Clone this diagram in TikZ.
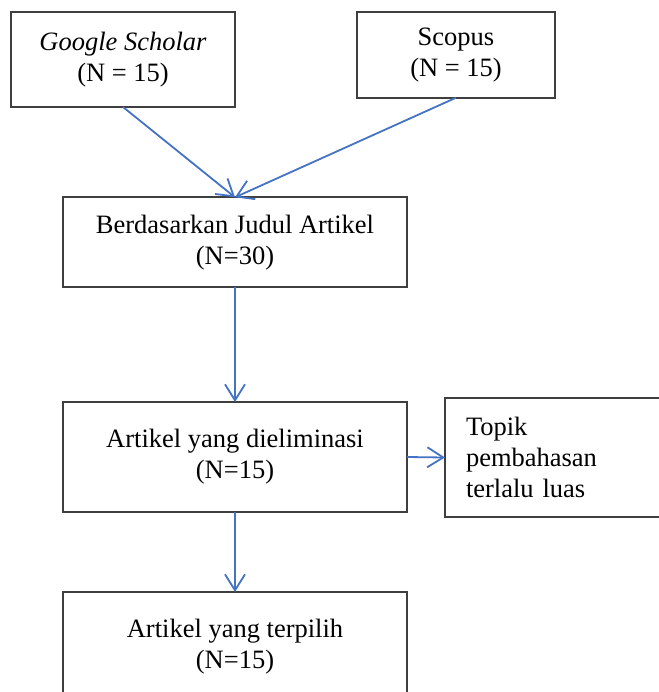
\documentclass[tikz,border=0pt]{standalone}
\usepackage{fontspec}
\setmainfont{Liberation Serif}
\usetikzlibrary{arrows.meta}

\definecolor{linkblue}{HTML}{4472C4}
\definecolor{framegray}{HTML}{3F3F3F}

\begin{document}
\begin{tikzpicture}[x=0.5pt,y=-0.5pt,
	flowbox/.style={draw=framegray, line width=1pt, rectangle, inner sep=0pt, outer sep=0pt, align=center, font=\fontsize{13.25}{15.6}\selectfont},
	flowarrow/.style={draw=linkblue, line width=0.9pt, -{Straight Barb[length=8pt,width=10pt]}}]
	\useasboundingbox (0,0) rectangle (659,692);
	\clip (0,0) rectangle (659,692);

	% sources
	\node[flowbox, minimum width=112pt, minimum height=47.5pt] (scholar) at (123,59.5) {\textit{Google Scholar}\\(N = 15)};
	\node[flowbox, minimum width=99.3pt, minimum height=43pt] (scopus) at (456,54.7) {Scopus\\(N = 15)};

	% screening steps
	\node[flowbox, minimum width=172pt, minimum height=45pt] (judul) at (235,242.3) {Berdasarkan Judul Artikel\\(N=30)};
	\node[flowbox, minimum width=172pt, minimum height=55pt] (eliminasi) at (235,457) {Artikel yang dieliminasi\\(N=15)};
	\node[flowbox, align=left, text width=90pt, inner xsep=10.5pt, minimum height=59.5pt, anchor=west] (alasan) at (445,457.5) {Topik\\pembahasan\\terlalu luas};
	\node[flowbox, minimum width=172pt, minimum height=55pt] (terpilih) at (235,647) {Artikel yang terpilih\\(N=15)};

	\draw[flowarrow] (scholar.south) -- (judul.north);
	\draw[flowarrow] (scopus.south) -- (judul.north);
	\draw[flowarrow] (judul.south) -- (eliminasi.north);
	\draw[flowarrow] (eliminasi.east) -- (alasan.west);
	\draw[flowarrow] (eliminasi.south) -- (terpilih.north);
\end{tikzpicture}
\end{document}
